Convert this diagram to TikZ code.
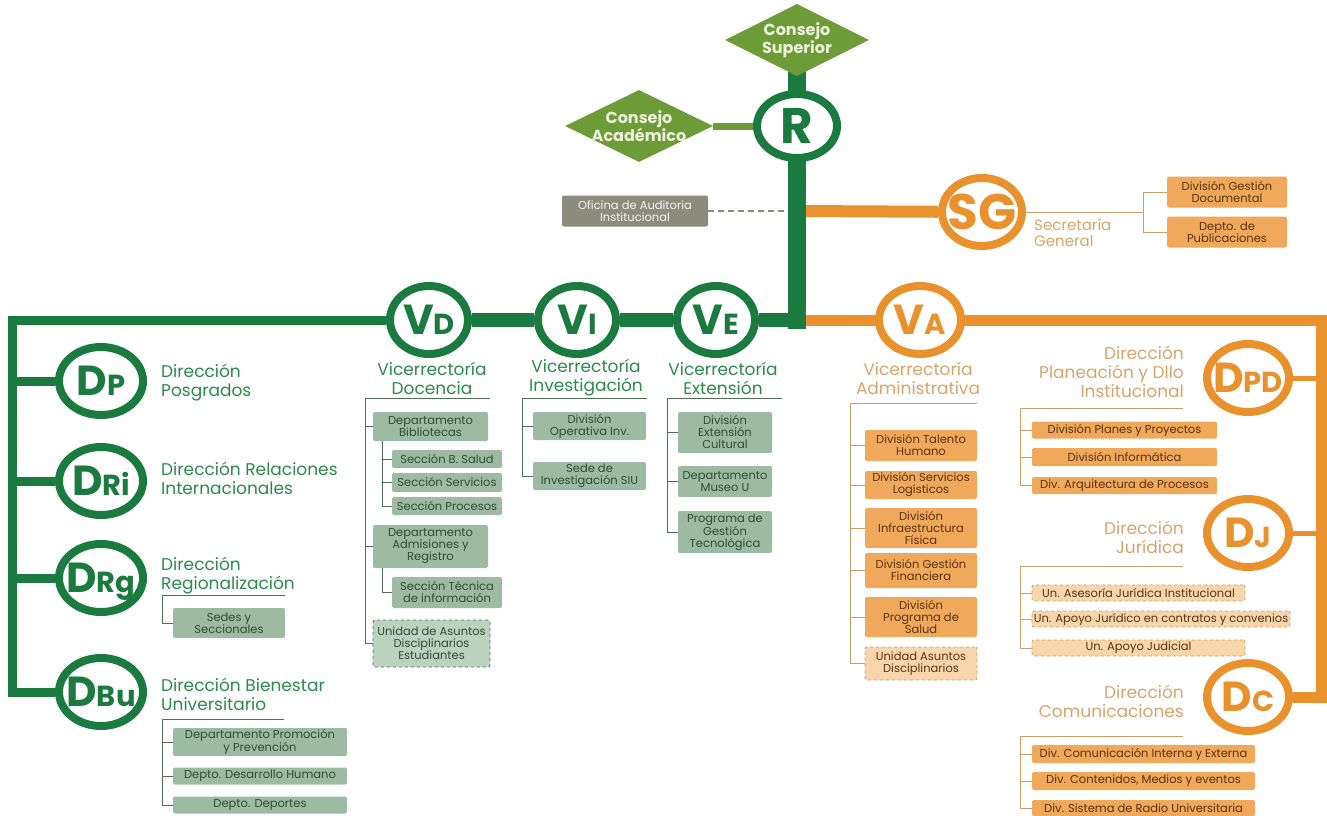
\documentclass[tikz,border=0pt]{standalone}
\usepackage{fontspec}
\setmainfont{Poppins}
\usetikzlibrary{shapes.geometric, positioning, backgrounds}

\definecolor{dkgreen}{HTML}{1A7A3F}
\definecolor{leaf}{HTML}{6C9B37}
\definecolor{leaftxt}{HTML}{EEF4DC}
\definecolor{sage}{HTML}{9DBBA2}
\definecolor{sagelt}{HTML}{BBD2BE}
\definecolor{sagetxt}{HTML}{2F4D37}
\definecolor{sageline}{HTML}{4E6E55}
\definecolor{ghead}{HTML}{2B8A4B}
\definecolor{orng}{HTML}{E8912D}
\definecolor{obox}{HTML}{F0A85A}
\definecolor{oboxlt}{HTML}{F8D5AA}
\definecolor{otxt}{HTML}{5A3314}
\definecolor{oline}{HTML}{C99E68}
\definecolor{ohead}{HTML}{D6A46A}
\definecolor{audit}{HTML}{8C8C7E}

% big letter + small letters inside the rings
\newcommand{\ringtxt}[2]{\raisebox{0pt}[\height][0pt]{\makebox[0pt]{\fontsize{42}{42}\selectfont #1\fontsize{29}{29}\selectfont #2}}}
\newcommand{\bigtxt}[1]{\raisebox{0pt}[\height][0pt]{\makebox[0pt]{\fontsize{50}{50}\selectfont #1}}}

\begin{document}
\begin{tikzpicture}[x=1pt, y=-1pt,
    gring/.style={
        ellipse, draw=dkgreen, line width=8pt, fill=white, text=dkgreen,
        font=\bfseries, minimum width=78, minimum height=68, inner sep=0pt
    },
    oring/.style={gring, draw=orng, text=orng},
    consejo/.style={diamond, fill=leaf, minimum width=144, minimum height=72, inner sep=0pt},
    ctext/.style={text=leaftxt, font=\fontsize{16}{17}\selectfont\bfseries, align=center},
    gbox/.style={
        rectangle, rounded corners=2pt, fill=sage, text=sagetxt,
        font=\fontsize{11.5}{12}\selectfont, align=center, inner sep=0pt
    },
    gdash/.style={gbox, fill=sagelt, draw=sageline, dashed, line width=0.8pt},
    obx/.style={gbox, fill=obox, text=otxt},
    odash/.style={obx, fill=oboxlt, draw=oline, dashed, line width=0.8pt},
    audbox/.style={gbox, fill=audit, text=white!92!audit},
    wh/.style 2 args={minimum width=#1, minimum height=#2},
    ghd/.style={text=ghead, font=\fontsize{17}{19}\selectfont, inner sep=0pt},
    ohd/.style={ghd, text=ohead},
    gbr/.style={draw=sageline, line width=1pt},
    obr/.style={draw=oline, line width=1pt},
    trunk/.style={draw=dkgreen, line width=18pt, line cap=rect},
    gmain/.style={draw=dkgreen, line width=14pt},
    gside/.style={draw=dkgreen, line width=9pt},
    omain/.style={draw=orng, line width=12pt},
    obranch/.style={draw=orng, line width=5pt},
    caline/.style={draw=leaf, line width=7pt},
    audline/.style={draw=audit, line width=2pt, dash pattern=on 6pt off 4pt}
]
\useasboundingbox (0,0) rectangle (1327,815);

% rectoria and councils
\node[consejo, label={[ctext]center:Consejo\\Superior}] (cs) at (797,40) {};
\node[consejo, minimum width=148, label={[ctext]center:Consejo\\Académico}] (ca) at (639,126) {};
\node[gring, minimum width=80, minimum height=64] (r) at (797,126) {\bigtxt{R}};
\node[audbox, wh={146}{31}] (ofi) at (635,211) {Oficina de Auditoria\\Institucional};

\coordinate (hub) at (797,320);
\coordinate (sgj) at (797,211);
\coordinate (gcorner) at (12,320);
\coordinate (ocorner) at (1321,320);

% secretaria general
\node[oring, minimum width=80] (sg) at (982,212) {\bigtxt{SG}};
\node[ohd, anchor=north west, align=left, font=\fontsize{15}{16}\selectfont] (tsg) at (1034,219) {Secretaría\\General};
\coordinate (sgbr) at (1143,212);
\node[obx, wh={120}{31}] (sg1) at (1227,192) {División Gestión\\Documental};
\node[obx, wh={120}{31}] (sg2) at (1227,232) {Depto. de\\Publicaciones};

% direcciones (left)
\node[gring, minimum width=84] (dp)  at (101,381) {\ringtxt{D}{P}};
\node[gring, minimum width=84] (dri) at (101,481) {\ringtxt{D}{Ri}};
\node[gring, minimum width=84] (drg) at (101,578) {\ringtxt{D}{Rg}};
\node[gring, minimum width=84] (dbu) at (101,692) {\ringtxt{D}{Bu}};

\node[ghd, anchor=north west, align=left] (tdp)  at (161,364) {Dirección\\Posgrados};
\node[ghd, anchor=north west, align=left] (tdri) at (161,462) {Dirección Relaciones\\Internacionales};
\node[ghd, anchor=north west, align=left] (tdrg) at (161,557) {Dirección\\Regionalización};
\node[ghd, anchor=north west, align=left] (tdbu) at (161,678) {Dirección Bienestar\\Universitario};

\coordinate (rgL) at (162,595);
\coordinate (rgR) at (285,595);
\node[gbox, wh={112}{30}] (sedes) at (229,623) {Sedes y\\Seccionales};

\coordinate (buL) at (162,719);
\coordinate (buR) at (284,719);
\node[gbox, wh={174}{28}] (prom) at (260,742) {Departamento Promoción\\y Prevención};
\node[gbox, wh={174}{17}] (dhum) at (260,776) {Depto. Desarrollo Humano};
\node[gbox, wh={174}{17}] (depo) at (260,805) {Depto. Deportes};

% vicerrectoria docencia
\node[gring] (vd) at (429,320) {\ringtxt{V}{D}};
\node[ghd, align=center] (tvd) at (432,378) {Vicerrectoría\\Docencia};
\coordinate (vdL) at (365,398);
\coordinate (vdR) at (490,398);
\node[gbox, wh={115}{29}] (bib)  at (430.5,426.5) {Departamento\\Bibliotecas};
\node[gbox, wh={110}{18}] (bsal) at (447,459) {Sección B. Salud};
\node[gbox, wh={110}{19}] (bser) at (447,482.5) {Sección Servicios};
\node[gbox, wh={110}{18}] (bpro) at (447,506) {Sección Procesos};
\node[gbox, wh={115}{43}] (adm)  at (430.5,546.5) {Departamento\\Admisiones y\\Registro};
\node[gbox, wh={110}{31}] (stec) at (447,592.5) {Sección Técnica\\de información};
\node[gdash, wh={117}{47}] (uade) at (431.5,643.5) {Unidad de Asuntos\\Disciplinarios\\Estudiantes};

% vicerrectoria investigacion
\node[gring] (vi) at (577,320) {\ringtxt{V}{I}};
\node[ghd, align=center] (tvi) at (586,378) {Vicerrectoría\\Investigación};
\coordinate (viL) at (522,398);
\coordinate (viR) at (647,398);
\node[gbox, wh={113}{28}] (opinv) at (589.5,426) {División\\Operativa Inv.};
\node[gbox, wh={113}{28}] (siu)   at (589.5,476) {Sede de\\Investigación SIU};

% vicerrectoria extension
\node[gring] (ve) at (716,320) {\ringtxt{V}{E}};
\node[ghd, align=center] (tve) at (723,378) {Vicerrectoría\\Extensión};
\coordinate (veL) at (667,398);
\coordinate (veR) at (782,398);
\node[gbox, wh={94}{41}] (excu)  at (725,432.5) {División\\Extensión\\Cultural};
\node[gbox, wh={94}{31}] (museo) at (725,481.5) {Departamento\\Museo U};
\node[gbox, wh={94}{42}] (pgt)   at (725,532) {Programa de\\Gestión\\Tecnológica};

% vicerrectoria administrativa
\node[oring, minimum width=82] (va) at (920,320) {\ringtxt{V}{A}};
\node[ohd, align=center] (tva) at (918,378) {Vicerrectoría\\Administrativa};
\coordinate (vaL) at (850,403);
\coordinate (vaR) at (977,403);
\node[obx, wh={112}{31}] (tal) at (921,445.5) {División Talento\\Humano};
\node[obx, wh={112}{28}] (log) at (921,485) {División Servicios\\Logísticos};
\node[obx, wh={112}{40}] (inf) at (921,528) {División\\Infraestructura\\Física};
\node[obx, wh={112}{35}] (fin) at (921,570.5) {División Gestión\\Financiera};
\node[obx, wh={112}{40}] (psal) at (921,617) {División\\Programa de\\Salud};
\node[odash, wh={112}{33}] (uad) at (921,663.5) {Unidad Asuntos\\Disciplinarios};

% direcciones (right)
\node[oring, minimum width=82] (dpd) at (1248,378) {\ringtxt{D}{PD}};
\node[ohd, anchor=north east, align=right] (tdpd) at (1184,346) {Dirección\\Planeación y Dllo\\Institucional};
\coordinate (pdL) at (1020,408);
\coordinate (pdR) at (1183,408);
\node[obx, wh={185}{17}] (dpla) at (1124.5,430) {División Planes y Proyectos};
\node[obx, wh={185}{18}] (dinf) at (1124.5,457) {División Informática};
\node[obx, wh={185}{17}] (darq) at (1124.5,485.5) {Div. Arquitectura de Procesos};

\node[oring, minimum width=82] (dj) at (1248,533) {\ringtxt{D}{J}};
\node[ohd, anchor=north east, align=right] (tdj) at (1184,521) {Dirección\\Jurídica};
\coordinate (djL) at (1020,566);
\coordinate (djR) at (1183,566);
\node[odash, wh={213}{16}] (jase) at (1138.5,593) {Un. Asesoría Jurídica Institucional};
\node[odash, wh={258}{16}] (japo) at (1161,619) {Un. Apoyo Jurídico en contratos y convenios};
\node[odash, wh={213}{16}] (jjud) at (1138.5,648) {Un. Apoyo Judicial};

\node[oring, minimum width=82] (dc) at (1248,697) {\ringtxt{D}{C}};
\node[ohd, anchor=north east, align=right] (tdc) at (1184,685) {Dirección\\Comunicaciones};
\coordinate (dcL) at (1020,736);
\coordinate (dcR) at (1183,736);
\node[obx, wh={223}{18}] (dci) at (1143.5,754) {Div. Comunicación Interna y Externa};
\node[obx, wh={223}{18}] (dcm) at (1143.5,781) {Div. Contenidos, Medios y eventos};
\node[obx, wh={223}{16}] (dcr) at (1143.5,808) {Div. Sistema de Radio Universitaria};

\begin{scope}[on background layer]
    % orange side
    \draw[omain] (sgj) -- (sg);
    \draw[omain, line width=11pt] (hub) -- (ocorner) |- (dc);
    \draw[obranch] (ocorner |- dpd) -- (dpd);
    \draw[obranch] (ocorner |- dj) -- (dj);
    \draw[audline] (ofi) -- (sgj);
    \draw[caline] (ca) -- (r);
    % green side
    \draw[gmain] (hub) -- (ve) -- (vi) -- (vd);
    \draw[gside] (vd) -- (gcorner) |- (dbu);
    \draw[gside] (gcorner |- dp) -- (dp);
    \draw[gside] (gcorner |- dri) -- (dri);
    \draw[gside] (gcorner |- drg) -- (drg);
    \draw[trunk] (cs.south) -- (r.north);
    \draw[trunk] (r.south) -- (hub);
\end{scope}

% brackets
\draw[obr] (sg) -- (sgbr);
\draw[obr] (sgbr) |- (sg1);
\draw[obr] (sgbr) |- (sg2);

\draw[gbr] (rgR) -- (rgL) |- (sedes);
\draw[gbr] (buR) -- (buL) |- (depo);
\draw[gbr] (buL) |- (prom);
\draw[gbr] (buL) |- (dhum);

\draw[gbr] (vdR) -- (vdL) |- (uade);
\draw[gbr] (vdL) |- (bib);
\draw[gbr] (vdL) |- (adm);
\draw[gbr] ([xshift=10pt]bib.south west) |- (bpro);
\draw[gbr] ([xshift=10pt]bib.south west) |- (bsal);
\draw[gbr] ([xshift=10pt]bib.south west) |- (bser);
\draw[gbr] ([xshift=10pt]adm.south west) |- (stec);

\draw[gbr] (viR) -- (viL) |- (siu);
\draw[gbr] (viL) |- (opinv);

\draw[gbr] (veR) -- (veL) |- (pgt);
\draw[gbr] (veL) |- (excu);
\draw[gbr] (veL) |- (museo);

\draw[obr] (vaR) -- (vaL) |- (uad);
\draw[obr] (vaL) |- (tal);
\draw[obr] (vaL) |- (log);
\draw[obr] (vaL) |- (inf);
\draw[obr] (vaL) |- (fin);
\draw[obr] (vaL) |- (psal);

\draw[obr] (pdR) -- (pdL) |- (darq);
\draw[obr] (pdL) |- (dpla);
\draw[obr] (pdL) |- (dinf);

\draw[obr] (djR) -- (djL) |- (jjud);
\draw[obr] (djL) |- (jase);
\draw[obr] (djL) |- (japo);

\draw[obr] (dcR) -- (dcL) |- (dcr);
\draw[obr] (dcL) |- (dci);
\draw[obr] (dcL) |- (dcm);

\end{tikzpicture}
\end{document}
